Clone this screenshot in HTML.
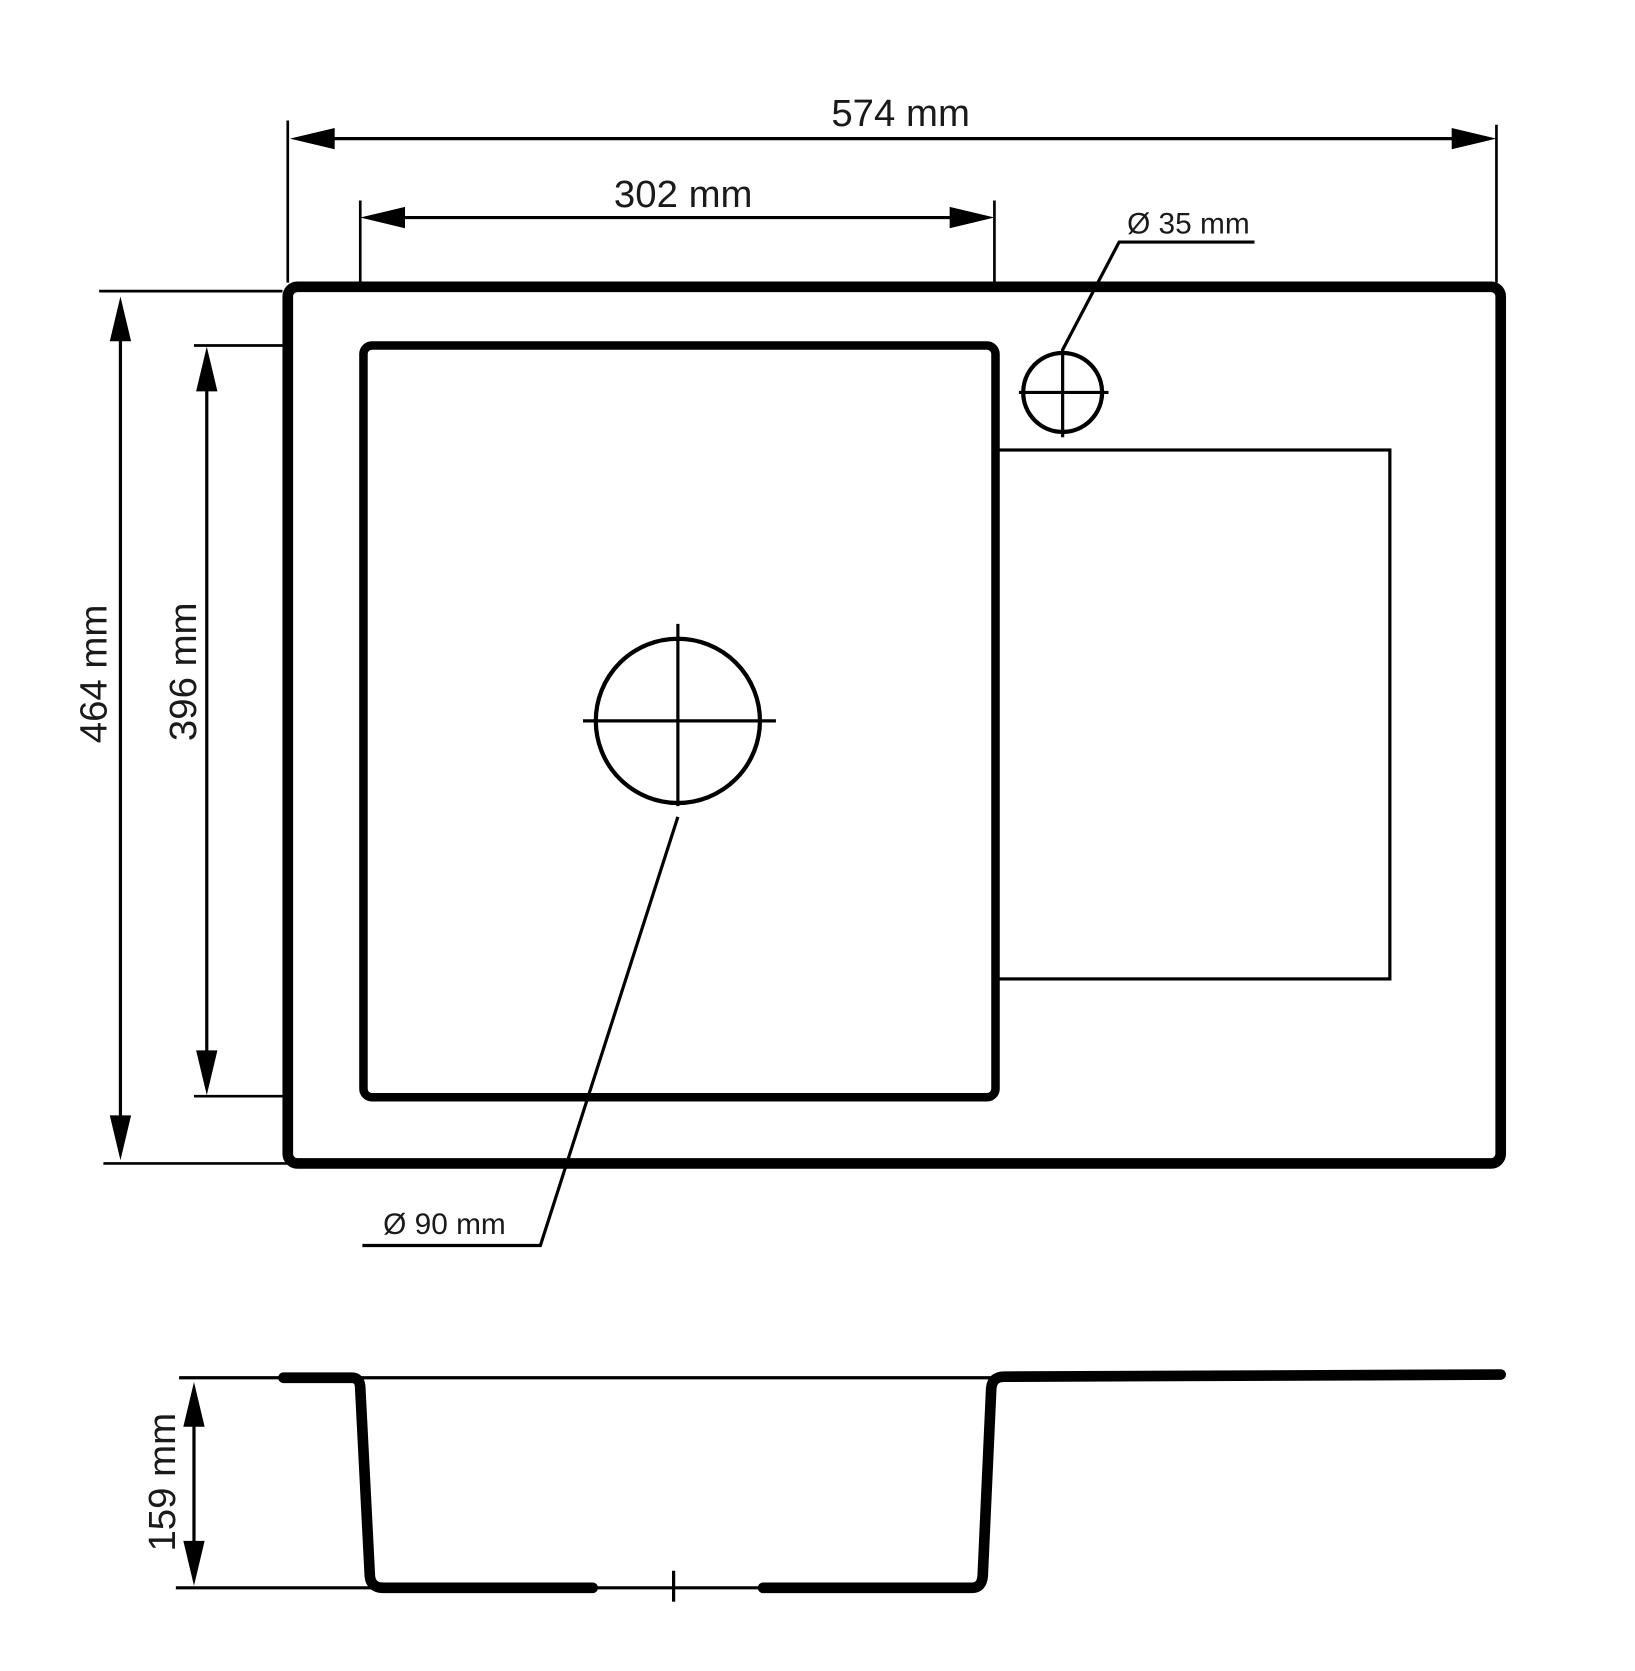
<!DOCTYPE html>
<html><head><meta charset="utf-8"><style>html,body{margin:0;padding:0;background:#fff}svg{display:block}</style></head><body>
<svg width="1635" height="1671" viewBox="0 0 1534 1567" preserveAspectRatio="none" xmlns="http://www.w3.org/2000/svg" font-family="'Liberation Sans', sans-serif" fill="none" stroke="#000">
<rect x="270" y="269" width="1138" height="822" rx="9" stroke-width="10"/>
<rect x="341" y="324" width="593" height="705" rx="8" stroke-width="8"/>
<rect x="934" y="422" width="370" height="496" stroke-width="3"/>
<circle cx="997" cy="368" r="37" stroke-width="4"/>
<line x1="956" y1="368" x2="1040" y2="368" stroke-width="3"/>
<line x1="997" y1="327" x2="997" y2="410" stroke-width="3"/>
<polyline points="997,328 1050,227 1177,227" stroke-width="3"/>
<circle cx="636" cy="676" r="77" stroke-width="4"/>
<line x1="547" y1="676" x2="728" y2="676" stroke-width="3"/>
<line x1="636" y1="585" x2="636" y2="756" stroke-width="3"/>
<polyline points="636,766 507,1168 340,1168" stroke-width="3"/>
<!-- 574 -->
<line x1="270" y1="113" x2="270" y2="265" stroke-width="2.5"/>
<line x1="1404" y1="117" x2="1404" y2="265" stroke-width="2.5"/>
<line x1="290" y1="130" x2="1386" y2="130" stroke-width="3"/>
<polygon points="272,130 314,120 314,140" fill="#000" stroke="none"/>
<polygon points="1404,130 1362,120 1362,140" fill="#000" stroke="none"/>
<!-- 302 -->
<line x1="338" y1="188" x2="338" y2="265" stroke-width="2.5"/>
<line x1="933" y1="188" x2="933" y2="265" stroke-width="2.5"/>
<line x1="356" y1="204" x2="915" y2="204" stroke-width="3"/>
<polygon points="338,204 380,194 380,214" fill="#000" stroke="none"/>
<polygon points="933,204 891,194 891,214" fill="#000" stroke="none"/>
<!-- 464 -->
<line x1="93" y1="273" x2="265" y2="273" stroke-width="2.5"/>
<line x1="97" y1="1091" x2="270" y2="1091" stroke-width="2.5"/>
<line x1="113" y1="296" x2="113" y2="1070" stroke-width="3"/>
<polygon points="113,278 103,320 123,320" fill="#000" stroke="none"/>
<polygon points="113,1088 103,1046 123,1046" fill="#000" stroke="none"/>
<!-- 396 -->
<line x1="182" y1="324" x2="265" y2="324" stroke-width="2.5"/>
<line x1="182" y1="1028" x2="265" y2="1028" stroke-width="2.5"/>
<line x1="194" y1="343" x2="194" y2="1009" stroke-width="3"/>
<polygon points="194,325 184,367 204,367" fill="#000" stroke="none"/>
<polygon points="194,1027 184,985 204,985" fill="#000" stroke="none"/>
<!-- side view -->
<line x1="168" y1="1292" x2="935" y2="1292" stroke-width="3"/>
<line x1="165" y1="1489" x2="915" y2="1489" stroke-width="3"/>
<line x1="632" y1="1473" x2="632" y2="1502" stroke-width="3"/>
<path d="M266,1292 L330,1292 Q338,1292 338,1302 L347,1478 Q348,1489 360,1489 L556,1489" stroke-width="10" stroke-linecap="round" stroke-linejoin="round"/>
<path d="M716,1489 L912,1489 Q921,1489 922,1478 L930,1302 Q931,1291 942,1291 L1408,1289" stroke-width="10" stroke-linecap="round" stroke-linejoin="round"/>
<line x1="182" y1="1314" x2="182" y2="1469" stroke-width="3"/>
<polygon points="182,1296 172,1338 192,1338" fill="#000" stroke="none"/>
<polygon points="182,1487 172,1445 192,1445" fill="#000" stroke="none"/>
<g fill="#1a1a1a" stroke="none" text-anchor="middle">
<text x="845" y="118" font-size="36">574 mm</text>
<text x="641" y="194" font-size="36">302 mm</text>
<text x="1115" y="219" font-size="28">Ø 35 mm</text>
<text x="417" y="1157" font-size="28">Ø 90 mm</text>
<text transform="translate(100,632) rotate(-90)" font-size="36">464 mm</text>
<text transform="translate(184,630) rotate(-90)" font-size="36">396 mm</text>
<text transform="translate(164,1390) rotate(-90)" font-size="36">159 mm</text>
</g>
</svg>
</body></html>
